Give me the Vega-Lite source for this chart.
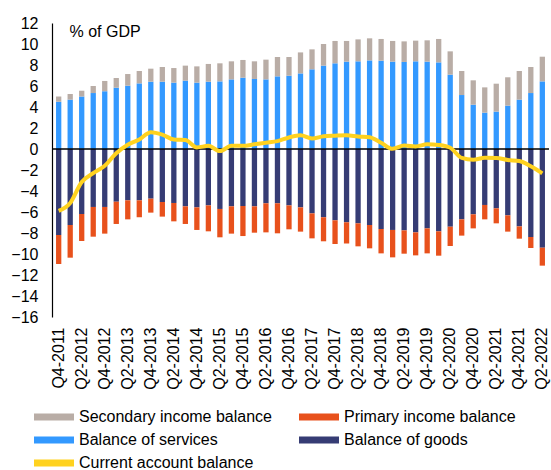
{
  "$schema": "https://vega.github.io/schema/vega-lite/v6.json",
  "width": 497,
  "height": 294,
  "autosize": "none",
  "padding": {"left": 52, "top": 23, "right": 2, "bottom": 153},
  "background": "#ffffff",
  "config": {
    "view": {"stroke": null},
    "font": "Liberation Sans",
    "axis": {"labelFont": "Liberation Sans", "labelFontSize": 16, "labelColor": "#000000", "grid": false, "ticks": false, "titleFont": "Liberation Sans", "labelOverlap": false},
    "legend": {"labelFont": "Liberation Sans", "labelFontSize": 16, "labelColor": "#000000", "labelLimit": 400}
  },
  "data": {"values": [
    {"q": "Q4-2011", "Balance of services": 4.5, "Secondary income balance": 0.5, "Balance of goods": -8.19, "Primary income balance": -2.76, "Current account balance": -5.9},
    {"q": "Q1-2012", "Balance of services": 4.7, "Secondary income balance": 0.54, "Balance of goods": -7.24, "Primary income balance": -3.11, "Current account balance": -5.15},
    {"q": "Q2-2012", "Balance of services": 5.0, "Secondary income balance": 0.55, "Balance of goods": -6.19, "Primary income balance": -2.57, "Current account balance": -3.15},
    {"q": "Q3-2012", "Balance of services": 5.33, "Secondary income balance": 0.67, "Balance of goods": -5.52, "Primary income balance": -2.83, "Current account balance": -2.3},
    {"q": "Q4-2012", "Balance of services": 5.5, "Secondary income balance": 0.98, "Balance of goods": -5.52, "Primary income balance": -2.54, "Current account balance": -1.6},
    {"q": "Q1-2013", "Balance of services": 5.84, "Secondary income balance": 0.92, "Balance of goods": -5.02, "Primary income balance": -2.12, "Current account balance": -0.4},
    {"q": "Q2-2013", "Balance of services": 6.03, "Secondary income balance": 1.11, "Balance of goods": -4.89, "Primary income balance": -1.81, "Current account balance": 0.4},
    {"q": "Q3-2013", "Balance of services": 6.25, "Secondary income balance": 1.18, "Balance of goods": -4.89, "Primary income balance": -1.61, "Current account balance": 0.9},
    {"q": "Q4-2013", "Balance of services": 6.41, "Secondary income balance": 1.24, "Balance of goods": -4.73, "Primary income balance": -1.33, "Current account balance": 1.6},
    {"q": "Q1-2014", "Balance of services": 6.41, "Secondary income balance": 1.4, "Balance of goods": -5.05, "Primary income balance": -1.39, "Current account balance": 1.37},
    {"q": "Q2-2014", "Balance of services": 6.32, "Secondary income balance": 1.39, "Balance of goods": -5.14, "Primary income balance": -1.75, "Current account balance": 0.9},
    {"q": "Q3-2014", "Balance of services": 6.51, "Secondary income balance": 1.43, "Balance of goods": -5.46, "Primary income balance": -1.68, "Current account balance": 0.85},
    {"q": "Q4-2014", "Balance of services": 6.32, "Secondary income balance": 1.55, "Balance of goods": -5.56, "Primary income balance": -2.15, "Current account balance": 0.15},
    {"q": "Q1-2015", "Balance of services": 6.41, "Secondary income balance": 1.69, "Balance of goods": -5.37, "Primary income balance": -2.47, "Current account balance": 0.3},
    {"q": "Q2-2015", "Balance of services": 6.44, "Secondary income balance": 1.72, "Balance of goods": -5.71, "Primary income balance": -2.7, "Current account balance": -0.2},
    {"q": "Q3-2015", "Balance of services": 6.63, "Secondary income balance": 1.72, "Balance of goods": -5.46, "Primary income balance": -2.6, "Current account balance": 0.3},
    {"q": "Q4-2015", "Balance of services": 6.79, "Secondary income balance": 1.69, "Balance of goods": -5.43, "Primary income balance": -2.86, "Current account balance": 0.3},
    {"q": "Q1-2016", "Balance of services": 6.67, "Secondary income balance": 1.68, "Balance of goods": -5.46, "Primary income balance": -2.51, "Current account balance": 0.45},
    {"q": "Q2-2016", "Balance of services": 6.63, "Secondary income balance": 1.88, "Balance of goods": -5.17, "Primary income balance": -2.77, "Current account balance": 0.6},
    {"q": "Q3-2016", "Balance of services": 6.92, "Secondary income balance": 1.84, "Balance of goods": -5.17, "Primary income balance": -2.86, "Current account balance": 0.75},
    {"q": "Q4-2016", "Balance of services": 6.98, "Secondary income balance": 1.78, "Balance of goods": -5.37, "Primary income balance": -2.28, "Current account balance": 1.1},
    {"q": "Q1-2017", "Balance of services": 7.2, "Secondary income balance": 2.0, "Balance of goods": -5.56, "Primary income balance": -2.31, "Current account balance": 1.3},
    {"q": "Q2-2017", "Balance of services": 7.59, "Secondary income balance": 1.9, "Balance of goods": -6.13, "Primary income balance": -2.38, "Current account balance": 1.0},
    {"q": "Q3-2017", "Balance of services": 7.94, "Secondary income balance": 2.06, "Balance of goods": -6.5, "Primary income balance": -2.29, "Current account balance": 1.21},
    {"q": "Q4-2017", "Balance of services": 8.16, "Secondary income balance": 2.13, "Balance of goods": -6.79, "Primary income balance": -2.26, "Current account balance": 1.27},
    {"q": "Q1-2018", "Balance of services": 8.32, "Secondary income balance": 1.97, "Balance of goods": -6.98, "Primary income balance": -2.02, "Current account balance": 1.31},
    {"q": "Q2-2018", "Balance of services": 8.35, "Secondary income balance": 2.09, "Balance of goods": -7.08, "Primary income balance": -2.19, "Current account balance": 1.19},
    {"q": "Q3-2018", "Balance of services": 8.44, "Secondary income balance": 2.1, "Balance of goods": -7.24, "Primary income balance": -2.22, "Current account balance": 1.12},
    {"q": "Q4-2018", "Balance of services": 8.41, "Secondary income balance": 2.07, "Balance of goods": -7.62, "Primary income balance": -2.32, "Current account balance": 0.6},
    {"q": "Q1-2019", "Balance of services": 8.32, "Secondary income balance": 1.97, "Balance of goods": -7.71, "Primary income balance": -2.61, "Current account balance": 0.02},
    {"q": "Q2-2019", "Balance of services": 8.29, "Secondary income balance": 1.96, "Balance of goods": -7.75, "Primary income balance": -2.22, "Current account balance": 0.33},
    {"q": "Q3-2019", "Balance of services": 8.35, "Secondary income balance": 1.97, "Balance of goods": -7.94, "Primary income balance": -2.19, "Current account balance": 0.25},
    {"q": "Q4-2019", "Balance of services": 8.32, "Secondary income balance": 2.03, "Balance of goods": -7.56, "Primary income balance": -2.38, "Current account balance": 0.45},
    {"q": "Q1-2020", "Balance of services": 8.25, "Secondary income balance": 2.23, "Balance of goods": -7.84, "Primary income balance": -2.32, "Current account balance": 0.38},
    {"q": "Q2-2020", "Balance of services": 7.08, "Secondary income balance": 2.22, "Balance of goods": -7.4, "Primary income balance": -1.84, "Current account balance": 0.12},
    {"q": "Q3-2020", "Balance of services": 5.14, "Secondary income balance": 2.29, "Balance of goods": -6.7, "Primary income balance": -1.55, "Current account balance": -0.85},
    {"q": "Q4-2020", "Balance of services": 4.22, "Secondary income balance": 2.32, "Balance of goods": -6.22, "Primary income balance": -1.34, "Current account balance": -1.03},
    {"q": "Q1-2021", "Balance of services": 3.46, "Secondary income balance": 2.41, "Balance of goods": -5.33, "Primary income balance": -1.37, "Current account balance": -0.83},
    {"q": "Q2-2021", "Balance of services": 3.56, "Secondary income balance": 2.66, "Balance of goods": -5.65, "Primary income balance": -1.43, "Current account balance": -0.85},
    {"q": "Q3-2021", "Balance of services": 4.13, "Secondary income balance": 2.7, "Balance of goods": -6.32, "Primary income balance": -1.55, "Current account balance": -1.05},
    {"q": "Q4-2021", "Balance of services": 4.7, "Secondary income balance": 2.73, "Balance of goods": -7.37, "Primary income balance": -1.17, "Current account balance": -1.15},
    {"q": "Q1-2022", "Balance of services": 5.33, "Secondary income balance": 2.48, "Balance of goods": -8.38, "Primary income balance": -1.05, "Current account balance": -1.65},
    {"q": "Q2-2022", "Balance of services": 6.44, "Secondary income balance": 2.35, "Balance of goods": -9.4, "Primary income balance": -1.71, "Current account balance": -2.32}
  ]},
  "layer": [
    {
      "transform": [{"fold": ["Balance of goods", "Balance of services", "Primary income balance", "Secondary income balance"], "as": ["series", "v"]}],
      "mark": {"type": "bar"},
      "encoding": {
        "x": {
          "field": "q", "type": "ordinal", "sort": null,
          "scale": {"paddingInner": 0.54, "paddingOuter": 0.35},
          "axis": {
            "title": null, "domain": false, "ticks": false, "labelAngle": -90, "labelPadding": 10, "labelOverlap": false,
            "values": ["Q4-2011", "Q2-2012", "Q4-2012", "Q2-2013", "Q4-2013", "Q2-2014", "Q4-2014", "Q2-2015", "Q4-2015", "Q2-2016", "Q4-2016", "Q2-2017", "Q4-2017", "Q2-2018", "Q4-2018", "Q2-2019", "Q4-2019", "Q2-2020", "Q4-2020", "Q2-2021", "Q4-2021", "Q2-2022"]
          }
        },
        "y": {
          "field": "v", "type": "quantitative", "stack": "zero",
          "scale": {"domain": [-16, 12], "nice": false, "zero": false},
          "axis": {
            "values": [-16, -14, -12, -10, -8, -6, -4, -2, 0, 2, 4, 6, 8, 10, 12],
            "labelOverlap": false, "labelSeparation": 0, "labelFontSize": 16,
            "domain": true, "domainColor": "#000000", "domainWidth": 1.2, "ticks": false, "labelPadding": 14,
            "title": "% of GDP", "titleAngle": 0, "titleAlign": "left", "titleBaseline": "middle",
            "titleX": 17, "titleY": 8, "titleFontSize": 16, "titleFontWeight": "normal", "titleColor": "#000000"
          }
        },
        "color": {
          "field": "series", "type": "nominal",
          "scale": {
            "domain": ["Secondary income balance", "Primary income balance", "Balance of services", "Balance of goods", "Current account balance"],
            "range": ["#B9ADA6", "#E8511C", "#3399FF", "#363C74", "#FFD21F"]
          },
          "legend": {
            "title": null, "orient": "none", "direction": "horizontal", "legendX": -6, "legendY": 386, "columns": 2, "padding": 0,
            "symbolType": "M-2.5,-0.45H2.5V0.45H-2.5Z", "symbolSize": 256, "symbolStrokeWidth": 0,
            "labelOffset": 17, "columnPadding": 26, "rowPadding": 7,
            "encode": {"symbols": {"update": {"fill": {"scale": "color", "field": "value"}, "stroke": {"value": "transparent"}, "opacity": {"value": 1}}}}
          }
        },
        "order": {"field": "series", "sort": "ascending"}
      }
    },
    {
      "data": {"values": [{}]},
      "mark": {"type": "rule", "color": "#000000", "strokeWidth": 1.5},
      "encoding": {
        "y": {
          "datum": 0, "type": "quantitative",
          "scale": {"domain": [-16, 12], "nice": false, "zero": false},
          "axis": {
            "values": [-16, -14, -12, -10, -8, -6, -4, -2, 0, 2, 4, 6, 8, 10, 12],
            "labelOverlap": false, "labelSeparation": 0, "labelFontSize": 16,
            "domain": true, "domainColor": "#000000", "domainWidth": 1.2, "ticks": false, "labelPadding": 14,
            "title": "% of GDP", "titleAngle": 0, "titleAlign": "left", "titleBaseline": "middle",
            "titleX": 17, "titleY": 8, "titleFontSize": 16, "titleFontWeight": "normal", "titleColor": "#000000"
          }
        }
      }
    },
    {
      "mark": {"type": "line", "strokeWidth": 4, "interpolate": "monotone"},
      "encoding": {
        "x": {
          "field": "q", "type": "ordinal", "sort": null,
          "scale": {"paddingInner": 0.54, "paddingOuter": 0.35},
          "axis": {
            "title": null, "domain": false, "ticks": false, "labelAngle": -90, "labelPadding": 10, "labelOverlap": false,
            "values": ["Q4-2011", "Q2-2012", "Q4-2012", "Q2-2013", "Q4-2013", "Q2-2014", "Q4-2014", "Q2-2015", "Q4-2015", "Q2-2016", "Q4-2016", "Q2-2017", "Q4-2017", "Q2-2018", "Q4-2018", "Q2-2019", "Q4-2019", "Q2-2020", "Q4-2020", "Q2-2021", "Q4-2021", "Q2-2022"]
          }
        },
        "y": {
          "field": "Current account balance", "type": "quantitative",
          "scale": {"domain": [-16, 12], "nice": false, "zero": false},
          "axis": {
            "values": [-16, -14, -12, -10, -8, -6, -4, -2, 0, 2, 4, 6, 8, 10, 12],
            "labelOverlap": false, "labelSeparation": 0, "labelFontSize": 16,
            "domain": true, "domainColor": "#000000", "domainWidth": 1.2, "ticks": false, "labelPadding": 14,
            "title": "% of GDP", "titleAngle": 0, "titleAlign": "left", "titleBaseline": "middle",
            "titleX": 17, "titleY": 8, "titleFontSize": 16, "titleFontWeight": "normal", "titleColor": "#000000"
          }
        },
        "color": {"datum": "Current account balance"}
      }
    }
  ]
}
